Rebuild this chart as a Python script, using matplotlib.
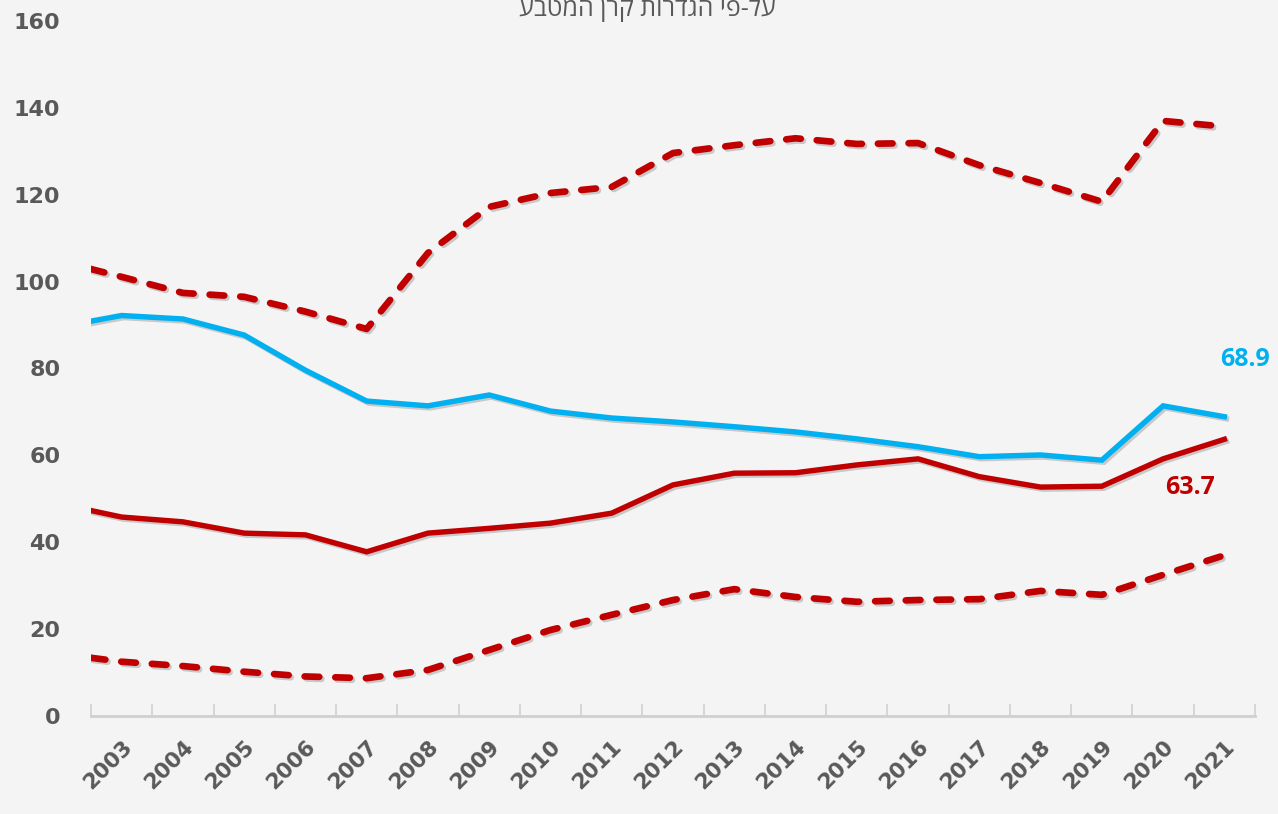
import matplotlib
matplotlib.use("Agg")
import matplotlib.pyplot as plt
import matplotlib.patheffects as pe

# שנים (2002 נחתכת בקצה הציר)
years = list(range(2002, 2022))

# חוב ממשלתי כאחוז תוצר - ישראל (כחול)
israel = [89.6, 92.2, 91.4, 87.7, 79.6, 72.5, 71.4, 73.9, 70.2, 68.6, 67.7, 66.6,
          65.4, 63.8, 62.0, 59.7, 60.1, 58.9, 71.4, 68.9]
# ממוצע (אדום רציף)
avg = [48.8, 45.8, 44.7, 42.1, 41.7, 37.8, 42.1, 43.2, 44.4, 46.7, 53.2, 55.9,
       56.0, 57.8, 59.2, 55.1, 52.7, 52.9, 59.2, 63.7]
# גבול עליון ותחתון (אדום מקווקו)
upper = [104.7, 101.1, 97.4, 96.5, 93.1, 89.1, 106.6, 117.2, 120.4, 121.8, 129.6, 131.4,
         133.0, 131.7, 131.9, 126.8, 122.7, 118.4, 137.0, 135.7]
lower = [14.3, 12.5, 11.5, 10.2, 9.1, 8.7, 10.6, 15.2, 19.8, 23.3, 26.7, 29.2,
         27.4, 26.3, 26.7, 26.9, 28.8, 27.9, 32.5, 37.0]

title = "על-פי הגדרות קרן המטבע"

BLUE = "#00B0F0"
RED = "#C00000"
GRAY = "#595959"
BG = "#f4f4f4"

fig = plt.figure(figsize=(12.78, 8.14), dpi=100, facecolor=BG)
ax = fig.add_axes([91 / 1278, 98 / 814, 1164 / 1278, 695 / 814])
ax.set_facecolor("none")

x = list(range(-1, len(years) - 1))  # 2002 -> -1, 2003 -> 0 ...
shadow = [pe.SimpleLineShadow(offset=(1.5, -1.5), shadow_color="black", alpha=0.18), pe.Normal()]

ax.plot(x, upper, color=RED, lw=4.8, ls=(0, (2.2, 2.4)), dash_capstyle="round",
        path_effects=shadow, zorder=3)
ax.plot(x, lower, color=RED, lw=4.8, ls=(0, (2.2, 2.4)), dash_capstyle="round",
        path_effects=shadow, zorder=3)
ax.plot(x, avg, color=RED, lw=3.9, solid_joinstyle="miter", path_effects=shadow, zorder=4)
ax.plot(x, israel, color=BLUE, lw=3.9, solid_joinstyle="miter", path_effects=shadow, zorder=5)

ax.annotate(f"{israel[-1]:.1f}", (x[-1], israel[-1]), xytext=(21, 57), textcoords="offset pixels",
            ha="center", va="center", color=BLUE, fontsize=18, fontweight="bold", family="Open Sans")
ax.annotate(f"{avg[-1]:.1f}", (x[-1], avg[-1]), xytext=(-34, -48), textcoords="offset pixels",
            ha="center", va="center", color=RED, fontsize=18, fontweight="bold", family="Open Sans")

# סימני ציר בגבולות הקטגוריות, תוויות במרכז
ax.set_xticks([i - 0.5 for i in range(len(years))])
ax.set_xticklabels([])
ax.set_xticks(x, [str(y) for y in years], minor=True)
ax.tick_params(axis="x", which="major", direction="in", length=9, color="#d0d0d0", width=1.2)
ax.tick_params(axis="x", which="minor", length=0, pad=15)
for lbl in ax.get_xticklabels(minor=True):
    lbl.set_rotation(45)
    lbl.set_ha("right")
    lbl.set_va("top")
    lbl.set_rotation_mode("anchor")
    lbl.set_fontsize(15.5)
    lbl.set_fontweight("bold")
    lbl.set_color(GRAY)

ax.set_yticks(range(0, 161, 20))
ax.tick_params(axis="y", length=0, pad=22, labelsize=16, labelcolor=GRAY)
for lbl in ax.get_yticklabels():
    lbl.set_fontweight("bold")

# הגבולות אחרי הטיקים, כדי ש-2002 תיחתך
ax.set_xlim(-0.5, len(years) - 1.5)
ax.set_ylim(0, 160)

for s in ["top", "right", "left"]:
    ax.spines[s].set_visible(False)
ax.spines["bottom"].set_color("#d0d0d0")
ax.spines["bottom"].set_linewidth(2)

# כותרת (נחתכת בחלקה העליון, כמו במקור)
fig.text(647 / 1278, 1 - 16 / 814, title[::-1], ha="center", va="baseline",
         fontsize=18, color="#595959", family=["Open Sans", "DejaVu Sans"])

fig.savefig("out.png", dpi=100, facecolor=BG)
